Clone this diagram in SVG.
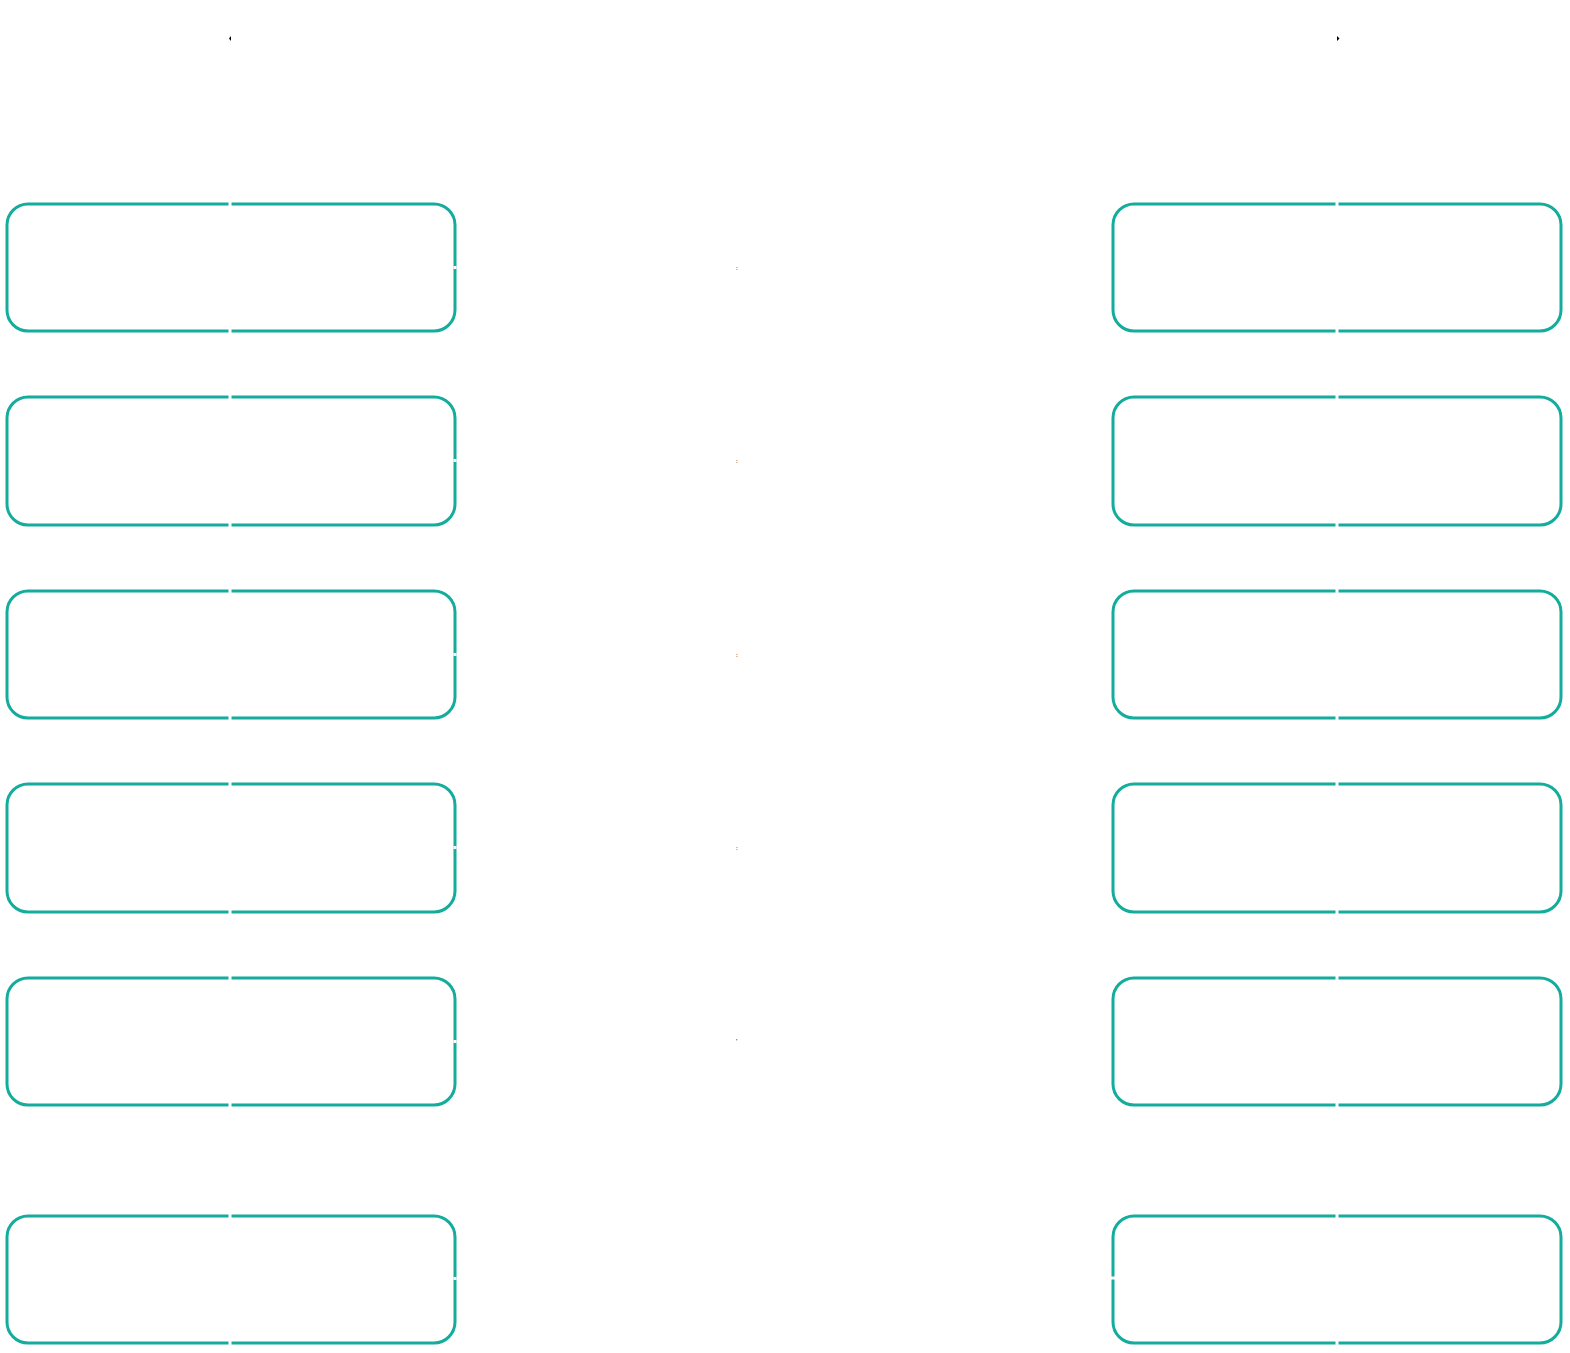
<svg xmlns="http://www.w3.org/2000/svg" width="1570" height="1353" viewBox="0 0 1570 1353">
<style>
.b{fill:#fff;stroke:#14ac9c;stroke-width:3}
.g{stroke:#fff;stroke-width:3}
.t{font-family:"Liberation Sans",sans-serif;font-size:5px;font-weight:bold;fill:#222}
</style>
<rect width="1570" height="1353" fill="#fff"/>
<g id="marks">
<path d="M231,36 L229,38.5 L231,41 Z" fill="#000"/>
<path d="M1337,36 L1339.5,38.5 L1337,41 Z" fill="#000"/>
</g>
<g id="L1"><rect class="b" x="7" y="204" width="448" height="127" rx="21"/></g>
<g id="L2"><rect class="b" x="7" y="397" width="448" height="128" rx="21"/></g>
<g id="L3"><rect class="b" x="7" y="591" width="448" height="127" rx="21"/></g>
<g id="L4"><rect class="b" x="7" y="784" width="448" height="128" rx="21"/></g>
<g id="L5"><rect class="b" x="7" y="978" width="448" height="127" rx="21"/></g>
<g id="L6"><rect class="b" x="7" y="1216" width="448" height="127" rx="21"/></g>
<g id="R1"><rect class="b" x="1113" y="204" width="448" height="127" rx="21"/></g>
<g id="R2"><rect class="b" x="1113" y="397" width="448" height="128" rx="21"/></g>
<g id="R3"><rect class="b" x="1113" y="591" width="448" height="127" rx="21"/></g>
<g id="R4"><rect class="b" x="1113" y="784" width="448" height="128" rx="21"/></g>
<g id="R5"><rect class="b" x="1113" y="978" width="448" height="127" rx="21"/></g>
<g id="R6"><rect class="b" x="1113" y="1216" width="448" height="127" rx="21"/></g>
<g id="connectors">
<path class="g" d="M230,201V207M230,328V334M455,266V269M230,394V400M230,522V528M455,459V462M230,588V594M230,715V721M455,653V656M230,781V787M230,909V915M455,846V849M230,975V981M230,1102V1108M455,1040V1043M230,1213V1219M230,1340V1346M455,1277V1280"/>
<path class="g" d="M1337,201V207M1337,328V334M1337,394V400M1337,522V528M1337,588V594M1337,715V721M1337,781V787M1337,909V915M1337,975V981M1337,1102V1108M1337,1213V1219M1337,1340V1346M1111,1278H1116"/>
<text class="t" x="736" y="270">:</text>
<text class="t" x="736" y="463">:</text>
<text class="t" x="736" y="657">:</text>
<text class="t" x="736" y="850">:</text>
<text class="t" x="736" y="1043">'</text>
</g>
</svg>
